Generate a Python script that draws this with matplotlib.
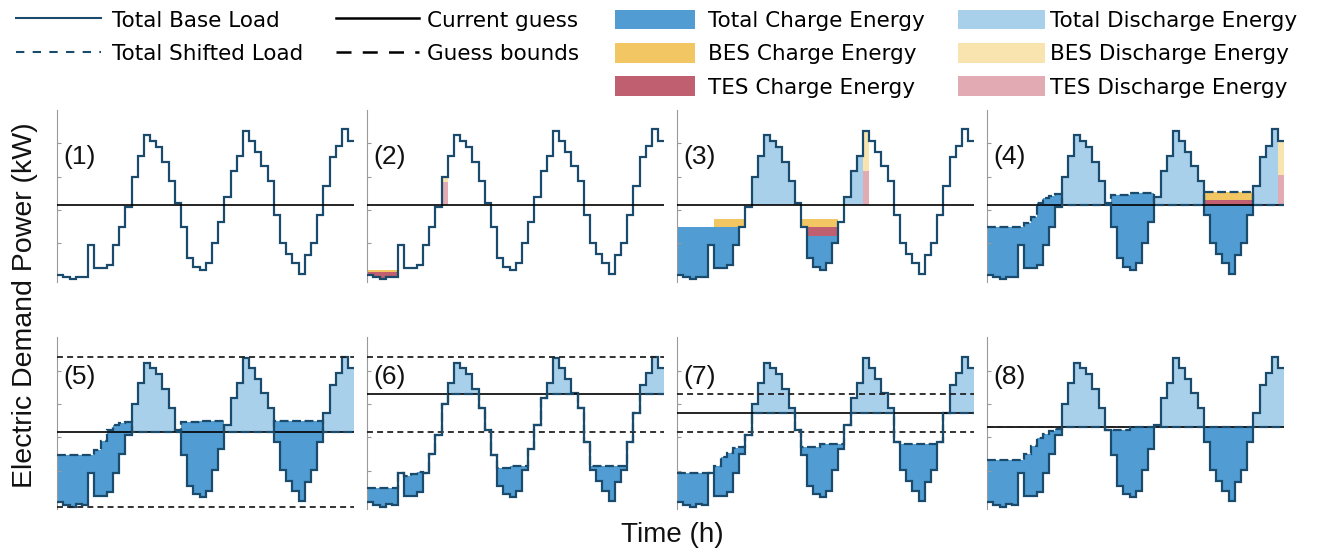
import numpy as np
import matplotlib
matplotlib.use("Agg")
import matplotlib.pyplot as plt
from matplotlib.lines import Line2D
from matplotlib.patches import Patch

plt.rcParams['font.family'] = ['Liberation Sans', 'DejaVu Sans']

W, H = 1324, 549

# ---------------- data ----------------
hours = np.arange(49)  # step edges (h)

base_load = [105, 98, 92, 100, 98, 194, 125, 125, 135, 194, 250, 308, 400, 462, 524, 508,
             490, 445, 387, 322, 248, 155, 130, 120, 140, 202, 265, 338, 418, 462, 538, 508,
             475, 432, 388, 285, 202, 168, 140, 108, 165, 202, 285, 372, 458, 492, 542, 508]

guess = [316.5, 316.5, 316.5, 316.5, 316.5, 429, 372.75, 331]
bounds = [None, None, None, None, (91, 542), (316.5, 542), (316.5, 429), (330.5, 331.5)]

shifted_1 = None
shifted_2 = [120, 120, 120, 120, 120, 194, 125, 125, 135, 194, 250, 308, 316.5, 462, 524, 508,
             490, 445, 387, 322, 248, 155, 130, 120, 140, 202, 265, 338, 418, 462, 538, 508,
             475, 432, 388, 285, 202, 168, 140, 108, 165, 202, 285, 372, 458, 492, 542, 508]
shifted_3 = [248, 248, 248, 248, 248, 248, 272, 272, 272, 272, 272, 308, 316.5, 316.5, 316.5, 316.5,
             316.5, 316.5, 316.5, 316.5, 272, 272, 272, 272, 272, 272, 265, 316.5, 316.5, 316.5, 316.5, 508,
             475, 432, 388, 285, 202, 168, 140, 108, 165, 202, 285, 372, 458, 492, 542, 508]
shifted_4 = [250, 250, 250, 250, 250, 250, 260, 280, 320, 337, 343, 347, 316.5, 316.5, 316.5, 316.5,
             316.5, 316.5, 316.5, 316.5, 345, 345, 345, 352, 352, 352, 352, 316.5, 316.5, 316.5, 316.5, 316.5,
             316.5, 316.5, 316.5, 355, 355, 355, 355, 355, 355, 355, 355, 316.5, 316.5, 316.5, 316.5, 316.5]
shifted_5 = [247, 247, 247, 247, 247, 247, 262, 290, 322, 338, 343, 345, 316.5, 316.5, 316.5, 316.5,
             316.5, 316.5, 316.5, 316.5, 345, 345, 345, 350, 350, 350, 350, 316.5, 316.5, 316.5, 316.5, 316.5,
             316.5, 316.5, 316.5, 350, 350, 350, 350, 350, 350, 350, 350, 316.5, 316.5, 316.5, 316.5, 316.5]
shifted_6 = [147, 147, 147, 147, 147, 194, 183, 190, 196, 194, 250, 308, 400, 429, 429, 429,
             429, 429, 387, 322, 248, 207, 207, 214, 214, 214, 265, 338, 418, 429, 429, 429,
             429, 429, 388, 285, 214, 214, 214, 214, 214, 214, 285, 372, 429, 429, 429, 429]
shifted_7 = [192, 192, 192, 192, 192, 194, 214, 242, 254, 267, 270, 308, 372.75, 372.75, 372.75, 372.75,
             372.75, 372.75, 372.75, 322, 272, 272, 272, 280, 280, 280, 280, 338, 372.75, 372.75, 372.75, 372.75,
             372.75, 372.75, 372.75, 285, 280, 280, 280, 280, 280, 280, 285, 372, 372.75, 372.75, 372.75, 372.75]
shifted_8 = [232, 232, 232, 232, 232, 232, 250, 274, 297, 310, 318, 324, 331, 331, 331, 331,
             331, 331, 331, 322, 322, 322, 322, 331, 331, 331, 331, 331, 331, 331, 331, 331,
             331, 331, 331, 331, 331, 331, 331, 331, 331, 331, 331, 331, 331, 331, 331, 331]
shifted = [shifted_1, shifted_2, shifted_3, shifted_4, shifted_5, shifted_6, shifted_7, shifted_8]

# storage components per panel: {hour step: kW}
bes_charge = {1: {0: 7, 1: 7, 2: 7, 3: 7, 4: 7},
              2: {6: 24, 7: 24, 8: 24, 9: 24, 10: 24, 20: 24, 21: 24, 22: 24, 23: 24, 24: 24, 25: 24},
              3: {35: 25, 36: 25, 37: 25, 38: 25, 39: 25, 40: 25, 41: 25, 42: 25}}
tes_charge = {1: {0: 25, 1: 25, 2: 25, 3: 25, 4: 25},
              2: {20: 26, 21: 26, 22: 26, 23: 26, 24: 26, 25: 26},
              3: {35: 13.5, 36: 13.5, 37: 13.5, 38: 13.5, 39: 13.5, 40: 13.5, 41: 13.5, 42: 13.5}}
tes_discharge = {1: {12: 68.5}, 2: {30: 101.5}, 3: {47: 88.5}}
bes_discharge = {1: {12: 15}, 2: {30: 120}, 3: {47: 103}}

panel_labels = ['(1)', '(2)', '(3)', '(4)', '(5)', '(6)', '(7)', '(8)']
show_shifted = [False, False, False, True, True, True, True, True]

# ---------------- style ----------------
NAVY = '#1a4a6c'
C_CHG = '#519dd3'
C_DIS = '#a9d0ea'
C_BES_C = '#f2c662'
C_TES_C = '#c05f6f'
C_BES_D = '#f9e3ae'
C_TES_D = '#e2aab3'
SPINE = '#9a9a9a'

fig = plt.figure(figsize=(W / 100, H / 100), dpi=100)

col_x = [57.3, 367.3, 677.3, 987.3]
ax_w = 297
ax_h = 171.7
row_bottom = [281.7, 509.0]
label_y = [0.726, 0.771]


def arr_from(d, n):
    a = np.zeros(n)
    for k, v in d.items():
        a[k] = v
    return a


for i in range(8):
    r, c = divmod(i, 4)
    ax = fig.add_axes([col_x[c] / W, 1 - row_bottom[r] / H, ax_w / W, ax_h / H])
    b = np.array(base_load, float)
    n = len(b)
    s = b.copy() if shifted[i] is None else np.array(shifted[i], float)
    assert len(s) == n
    bc = arr_from(bes_charge.get(i, {}), n)
    tc = arr_from(tes_charge.get(i, {}), n)
    bd = arr_from(bes_discharge.get(i, {}), n)
    td = arr_from(tes_discharge.get(i, {}), n)

    # charging (shifted above base)
    top = np.where(s > b, s, b)
    yel_lo = np.maximum(b, top - bc)
    red_lo = np.maximum(b, yel_lo - tc)
    fk = dict(fill=True, linewidth=0, edgecolor='none')
    ax.stairs(red_lo, hours, baseline=b, facecolor=C_CHG, **fk)
    ax.stairs(yel_lo, hours, baseline=red_lo, facecolor=C_TES_C, **fk)
    ax.stairs(top, hours, baseline=yel_lo, facecolor=C_BES_C, **fk)

    # discharging (shifted below base)
    low = np.where(s < b, s, b)
    pink_hi = np.minimum(b, low + td)
    ly_hi = np.minimum(b, pink_hi + bd)
    ax.stairs(pink_hi, hours, baseline=low, facecolor=C_TES_D, **fk)
    ax.stairs(ly_hi, hours, baseline=pink_hi, facecolor=C_BES_D, **fk)
    ax.stairs(b, hours, baseline=ly_hi, facecolor=C_DIS, **fk)

    # lines
    ax.stairs(b, hours, baseline=None, color=NAVY, lw=1.6, zorder=3)
    ax.axhline(guess[i], color='k', lw=1.2, zorder=4)
    if bounds[i] is not None:
        for bv in bounds[i]:
            ax.axhline(bv, color='#222222', lw=1.3, ls=(0, (3.3, 2.3)), zorder=4)
    if show_shifted[i]:
        ax.stairs(s, hours, baseline=None, color=NAVY, lw=1.6, ls=(0, (4, 1.6)), zorder=5)

    ax.set_xlim(0, 48)
    ax.set_ylim(85, 600)
    for sp in ['top', 'right', 'bottom']:
        ax.spines[sp].set_visible(False)
    ax.spines['left'].set_color(SPINE)
    ax.spines['left'].set_linewidth(0.8)
    ax.set_xticks([])
    ax.set_yticks([200, 300, 400, 500])
    ax.tick_params(axis='y', direction='in', length=3, width=0.8, colors=SPINE, labelleft=False)
    ax.patch.set_alpha(0)
    ax.text(0.019, label_y[r], panel_labels[i], transform=ax.transAxes, ha='left', va='center',
            fontsize=19, color='#111111', zorder=6)

fig.text(25 / W, 1 - 305 / H, 'Electric Demand Power (kW)', rotation=90, ha='center', va='center',
         fontsize=20.5, color='#111111')
fig.text(672 / W, 1 - 535 / H, 'Time (h)', ha='center', va='center', fontsize=20, color='#111111')

# ---------------- legend ----------------
leg_kw = dict(frameon=False, loc='upper left', borderpad=0, borderaxespad=0,
              labelspacing=0.56, handleheight=1.045,
              prop={'family': 'DejaVu Sans', 'size': 15.5})
top_y = 1 - 9.5 / H
h1 = [Line2D([], [], color=NAVY, lw=1.5), Line2D([], [], color=NAVY, lw=1.5, ls=(0, (4, 4)))]
fig.legend(h1, ['Total Base Load', 'Total Shifted Load'], bbox_to_anchor=(16 / W, top_y),
           handlelength=3.95, handletextpad=0.51, **leg_kw)
h2 = [Line2D([], [], color='k', lw=1.8), Line2D([], [], color='k', lw=1.8, ls=(0, (6, 4.5)))]
fig.legend(h2, ['Current guess', 'Guess bounds'], bbox_to_anchor=(336 / W, top_y),
           handlelength=3.86, handletextpad=0.37, **leg_kw)
h3 = [Patch(facecolor=C_CHG), Patch(facecolor=C_BES_C), Patch(facecolor=C_TES_C)]
fig.legend(h3, ['Total Charge Energy', 'BES Charge Energy', 'TES Charge Energy'],
           bbox_to_anchor=(615 / W, top_y), handlelength=3.72, handletextpad=0.6, **leg_kw)
h4 = [Patch(facecolor=C_DIS), Patch(facecolor=C_BES_D), Patch(facecolor=C_TES_D)]
fig.legend(h4, ['Total Discharge Energy', 'BES Discharge Energy', 'TES Discharge Energy'],
           bbox_to_anchor=(958 / W, top_y), handlelength=4.04, handletextpad=0.23, **leg_kw)

fig.savefig('out.png', dpi=100)
